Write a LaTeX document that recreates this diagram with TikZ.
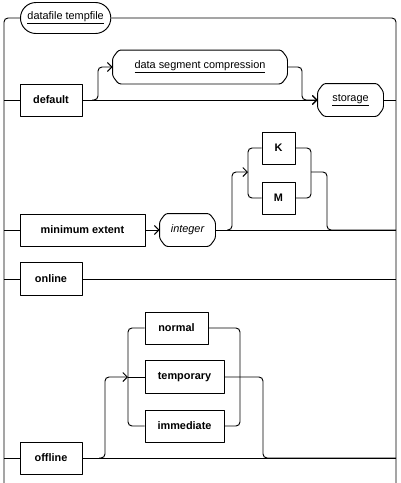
\documentclass[tikz,border=0pt]{standalone}
\usepackage{fontspec}
\setmainfont{Liberation Sans}
\usetikzlibrary{arrows.meta}
\newcommand\refoutline[1]{%
  \draw[rounded corners=2.5pt]
    ([xshift=6pt]#1.north west) -- ([xshift=-6pt]#1.north east)
    -- ([yshift=-8pt]#1.north east) -- ([yshift=8pt]#1.south east)
    -- ([xshift=-6pt]#1.south east) -- ([xshift=6pt]#1.south west)
    -- ([yshift=8pt]#1.south west) -- ([yshift=-8pt]#1.north west) -- cycle;}
\begin{document}
\begin{tikzpicture}[x=1pt,y=-1pt,line width=0.95pt,line join=round,
  font=\fontsize{10.9pt}{13pt}\selectfont,
  >={Straight Barb[length=4.5pt,width=9pt]},
  kw/.style={draw,rectangle,inner sep=0pt,minimum height=32pt,
    font=\fontsize{10.9pt}{13pt}\selectfont\bfseries},
  refn/.style={rectangle,inner sep=0pt,minimum height=32pt},
  conn/.style={rounded corners=4pt}]
\useasboundingbox (0,0) rectangle (400,483);

% nodes
\node[draw,rounded corners=15.5pt,minimum height=31pt,
  inner xsep=7pt,inner ysep=0pt,anchor=west] (title) at (20,18)
  {\underline{datafile tempfile}\hspace{20.5pt}};
\node[kw,minimum width=62pt] (default) at (51,100) {default};
\node[refn,minimum width=174pt,minimum height=33pt] (dsc) at (200,67) {\underline{data segment compression}};
\node[refn,minimum width=65pt] (storage) at (350.5,100) {\underline{storage}};
\node[kw,minimum width=125pt] (minext) at (82.5,230) {minimum extent};
\node[refn,minimum width=55pt] (integer) at (187.5,230) {\itshape integer};
\node[kw,minimum width=33pt] (K) at (278.5,148) {K};
\node[kw,minimum width=33pt] (M) at (278.5,198) {M};
\node[kw,minimum width=62pt,minimum height=33pt] (online) at (51,279) {online};
\node[kw,minimum width=62pt] (offline) at (51,458) {offline};
\node[kw,minimum width=63pt] (normal) at (176.5,328) {normal};
\node[kw,minimum width=79pt,minimum height=33pt] (temporary) at (184.5,377) {temporary};
\node[kw,minimum width=79pt] (immediate) at (184.5,426) {immediate};
\refoutline{dsc}
\refoutline{storage}
\refoutline{integer}

% rail coordinates
\coordinate (L0) at (4,483); \coordinate (R0) at (396,483);
\coordinate (L1) at (4,100); \coordinate (R1) at (396,100);
\coordinate (L2) at (4,230); \coordinate (R2) at (396,230);
\coordinate (L3) at (4,279); \coordinate (R3) at (396,279);
\coordinate (L4) at (4,458); \coordinate (R4) at (396,458);

% outer frame
\draw[conn] (L0) |- (title.west);
\draw[conn] (title.east) -| (R0);

% default row
\coordinate (b1) at (92,100);
\draw (L1) -- (default.west);
\draw[->] (default.east) -- (storage.west);
\draw (storage.east) -- (R1);
\draw[conn,->] (b1) -| (98,67) -- (dsc.west);
\draw[conn,->] (dsc.east) -| (302,100) -- (storage.west);

% minimum extent row
\coordinate (b2) at (227,230);
\coordinate (s1) at (248,172);
\coordinate (j1) at (311,172);
\draw (L2) -- (minext.west);
\draw[->] (minext.east) -- (integer.west);
\draw (integer.east) -- (R2);
\draw[conn,->] (b2) -| (232,172) -- (s1);
\draw[conn] (K.west) -| (s1) |- (M.west);
\draw[conn] (K.east) -| (j1) |- (M.east);
\draw[conn] (j1) -| (327,230) -- (R2);

% online row
\draw (L3) -- (online.west);
\draw (online.east) -- (R3);

% offline row
\coordinate (b3) at (99,458);
\coordinate (s2) at (128,377);
\coordinate (j2) at (240,377);
\draw (L4) -- (offline.west);
\draw (offline.east) -- (R4);
\draw[conn,->] (b3) -| (105,377) -- (s2);
\draw[conn] (normal.west) -| (s2) |- (immediate.west);
\draw (s2) -- (temporary.west);
\draw[conn] (normal.east) -| (j2) |- (immediate.east);
\draw[conn] (temporary.east) -| (263,458) -- (R4);
\end{tikzpicture}
\end{document}
